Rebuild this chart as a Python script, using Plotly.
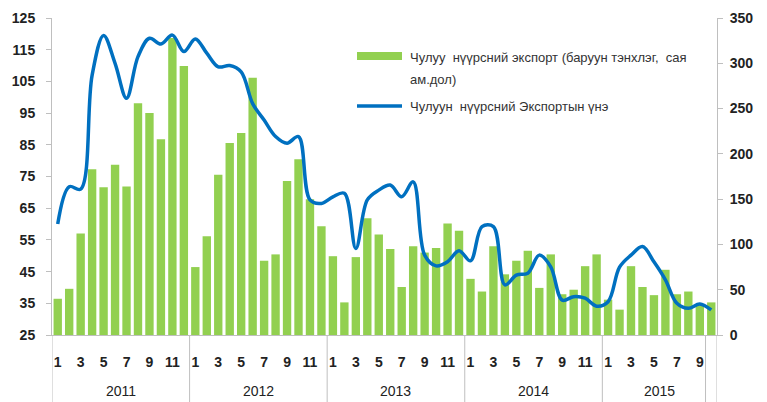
import plotly.graph_objects as go

# ---- data ----
years = ["2011", "2012", "2013", "2014", "2015"]
months_per_year = [12, 12, 12, 12, 10]

export_value = [  # right axis, million USD (bars)
    40, 51, 112, 183, 163, 188, 164, 256, 245, 216, 328, 297,
    75, 109, 177, 212, 223, 284, 82, 89, 170, 194, 150, 120,
    87, 36, 86, 129, 111, 95, 53, 98, 91, 96, 123, 115,
    62, 48, 98, 67, 82, 93, 52, 89, 45, 50, 76, 89,
    39, 28, 76, 53, 44, 72, 45, 48, 34, 36,
]
export_price = [  # left axis (line)
    60, 71.8, 71, 107, 119.5, 110.7, 99.7, 112.8, 118.6, 116.8, 119.6, 114.4,
    118.4, 113.9, 109.6, 110, 108, 98, 92.8, 87.6, 85.5, 87.6, 67.6, 66.5,
    68.6, 69.7, 52.3, 67.6, 70.7, 72.3, 68.6, 73.3, 50.2, 46.8, 48.1, 51.6,
    48.4, 59.2, 59.2, 40.8, 43.9, 44.5, 50.2, 46.5, 36, 37.1, 36.6, 34.1,
    35.5, 46.4, 50.2, 52.9, 48.1, 42.4, 35, 33.4, 34.8, 32.9,
]
bar_name = "Чулуу  нүүрсний экспорт (баруун тэнхлэг,  сая ам.дол)"
line_name = "Чулуун  нүүрсний Экспортын үнэ"

month_nums = [m + 1 for n in months_per_year for m in range(n)]
xs = list(range(len(month_nums)))
tickvals = [i for i, m in zip(xs, month_nums) if m % 2 == 1]
ticktext = [str(month_nums[i]) for i in tickvals]

W, H = 767, 402
L, R, T, B = 52, 50, 18, 67
pw, ph = W - L - R, H - T - B

def px(x):
    return (x - L) / pw

def py(y):
    return (H - B - y) / ph

GREEN = "#92D050"
BLUE = "#0070C0"
GRAY = "#BFBFBF"
FONT = "Liberation Sans, Arial"

fig = go.Figure()
fig.add_trace(go.Bar(x=xs, y=export_value, name=bar_name, marker_color=GREEN,
                     marker_line_width=0, yaxis="y", showlegend=False))
fig.add_trace(go.Scatter(x=xs, y=export_price, name=line_name, mode="lines",
                         line=dict(color=BLUE, width=3.5, shape="spline", smoothing=1.0),
                         yaxis="y2", showlegend=False))

shapes = []
bounds = [-0.5]
acc = -0.5
for n in months_per_year:
    acc += n
    bounds.append(acc)
bounds_div = bounds[:-1] + [bounds[-1] - 1, bounds[-1]]
for b in bounds_div:
    shapes.append(dict(type="line", xref="x", yref="paper", x0=b, x1=b,
                       y0=0, y1=py(H), line=dict(color=GRAY, width=1)))

annotations = []
start = -0.5
for yr, n in zip(years, months_per_year):
    end = start + n
    c = (start + end) / 2 if n == 12 else start + 5
    annotations.append(dict(x=c, y=py(391), xref="x", yref="paper", text=yr,
                            showarrow=False, font=dict(size=14, color="#222", family=FONT),
                            xanchor="center", yanchor="middle"))
    start = end

# custom legend
shapes.append(dict(type="rect", xref="paper", yref="paper", x0=px(357), x1=px(402),
                   y0=py(60), y1=py(52), fillcolor=GREEN, line=dict(width=0)))
shapes.append(dict(type="line", xref="paper", yref="paper", x0=px(357), x1=px(402),
                   y0=py(106), y1=py(106), line=dict(color=BLUE, width=3.5)))
annotations.append(dict(x=px(408), y=py(57), xref="paper", yref="paper",
                        text="Чулуу  нүүрсний экспорт (баруун тэнхлэг,  сая",
                        showarrow=False, xanchor="left", yanchor="middle",
                        font=dict(size=13, color="#333", family=FONT)))
annotations.append(dict(x=px(408), y=py(79), xref="paper", yref="paper",
                        text="ам.дол)", showarrow=False, xanchor="left", yanchor="middle",
                        font=dict(size=13, color="#333", family=FONT)))
annotations.append(dict(x=px(408), y=py(106), xref="paper", yref="paper",
                        text=line_name, showarrow=False, xanchor="left", yanchor="middle",
                        font=dict(size=13, color="#333", family=FONT)))

tickfont = dict(size=14, color="#222", family=FONT, weight="bold")
fig.update_layout(
    width=W, height=H,
    margin=dict(l=L, r=R, t=T, b=B),
    paper_bgcolor="white", plot_bgcolor="white",
    bargap=0.27,
    xaxis=dict(range=[-0.5, len(xs) - 0.5], tickvals=tickvals, ticktext=ticktext,
               showgrid=False, zeroline=False, showline=True, linecolor=GRAY,
               ticks="", ticklabelstandoff=14, tickfont=tickfont, automargin=False),
    yaxis=dict(side="right", range=[0, 350], tick0=0, dtick=50, showgrid=False, zeroline=False,
               showline=True, linecolor=GRAY, ticks="outside", ticklen=5, tickcolor=GRAY,
               ticklabelstandoff=4, tickfont=tickfont, automargin=False),
    yaxis2=dict(side="left", overlaying="y", range=[25, 125], tick0=25, dtick=10, showgrid=False,
                zeroline=False, showline=True, linecolor=GRAY, ticks="outside", ticklen=5,
                tickcolor=GRAY, ticklabelstandoff=8, tickfont=tickfont, automargin=False),
    shapes=shapes,
    annotations=annotations,
    showlegend=False,
)
fig.write_html("out.html", config={"displayModeBar": False},
               post_script="document.body.style.margin='0';document.body.style.overflow='hidden';")
